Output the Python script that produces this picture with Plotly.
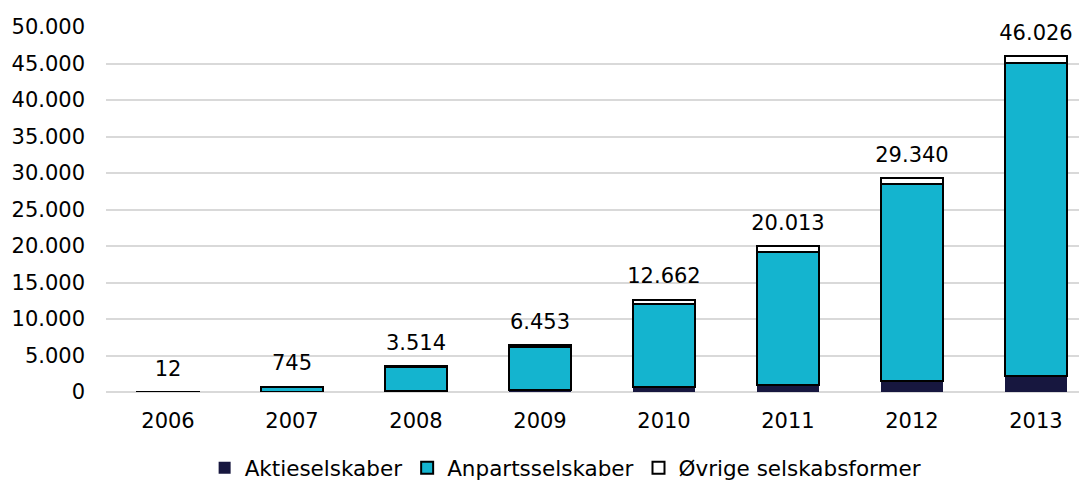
import plotly.graph_objects as go

years = ["2006", "2007", "2008", "2009", "2010", "2011", "2012", "2013"]
totals = [12, 745, 3514, 6453, 12662, 20013, 29340, 46026]
aktieselskaber = [0, 30, 150, 300, 650, 1000, 1450, 2150]
oevrige = [0, 30, 150, 250, 650, 800, 850, 900]
anpartsselskaber = [t - a - o for t, a, o in zip(totals, aktieselskaber, oevrige)]
total_labels = ["12", "745", "3.514", "6.453", "12.662", "20.013", "29.340", "46.026"]
y_tickvals = [0, 5000, 10000, 15000, 20000, 25000, 30000, 35000, 40000, 45000, 50000]
y_ticktext = ["0", "5.000", "10.000", "15.000", "20.000", "25.000", "30.000",
              "35.000", "40.000", "45.000", "50.000"]

FONT = "Verdana, DejaVu Sans, sans-serif"
FS = 21
fig = go.Figure()
fig.add_trace(go.Bar(x=years, y=aktieselskaber, name="Aktieselskaber",
                     marker=dict(color="#17173f", line=dict(color="#17173f", width=0))))
fig.add_trace(go.Bar(x=years, y=anpartsselskaber, name="Anpartsselskaber",
                     marker=dict(color="#14b4cf", line=dict(color="#000000", width=2))))
fig.add_trace(go.Bar(x=years, y=oevrige, name="Øvrige selskabsformer",
                     marker=dict(color="#ffffff", line=dict(color="#000000", width=2))))
fig.add_trace(go.Scatter(x=years, y=totals, mode="markers+text", text=total_labels,
                         textposition="top center", showlegend=False, hoverinfo="skip",
                         cliponaxis=False,
                         marker=dict(size=16, color="rgba(0,0,0,0)"),
                         textfont=dict(size=FS, color="#000000", family=FONT)))

fig.update_layout(
    width=1087, height=480,
    barmode="stack", bargap=0.5,
    plot_bgcolor="white", paper_bgcolor="white",
    font=dict(family=FONT, size=FS, color="#000000"),
    margin=dict(l=98, r=0, t=19, b=96),
    showlegend=True,
    legend=dict(orientation="h", x=0.513, xanchor="center", xref="container",
                y=0.042, yanchor="middle", yref="container",
                font=dict(size=21.5, family=FONT), itemwidth=30, traceorder="normal"),
    xaxis=dict(type="category", range=[-0.5, 7.476], showgrid=False, showline=False,
               ticks="", tickfont=dict(size=FS, family=FONT), ticklabelstandoff=14),
    yaxis=dict(range=[0, 50000], tickvals=y_tickvals, ticktext=y_ticktext,
               showgrid=True, gridcolor="#d9d9d9", gridwidth=1.5,
               zeroline=True, zerolinecolor="#d9d9d9", zerolinewidth=1.5,
               ticks="", tickfont=dict(size=FS, family=FONT), ticklabelstandoff=20),
)

fig.write_html("out.html")
